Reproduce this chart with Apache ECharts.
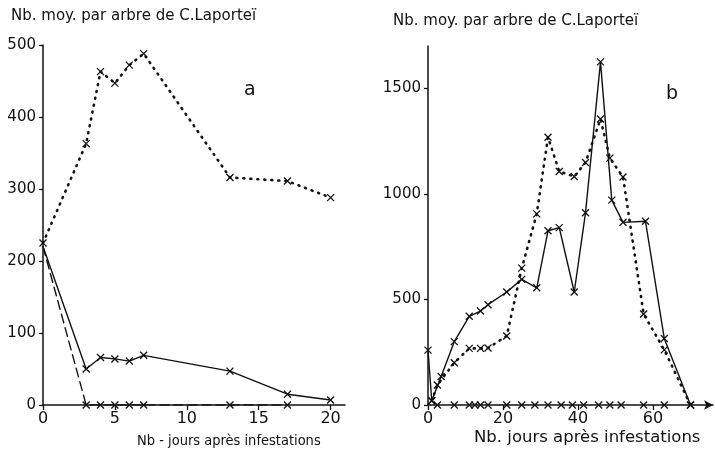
<!DOCTYPE html>
<html>
<head>
<meta charset="utf-8">
<script src="https://cdn.jsdelivr.net/npm/echarts@6/dist/echarts.min.js"></script>
<style>
  html, body { margin: 0; padding: 0; background: #fff; }
</style>
</head>
<body>
<div id="chart" style="width: 715px; height: 453px"></div>
<script>
// panel a : jours apres infestation / nb moyen par arbre
const aDays = [0, 3, 4, 5, 6, 7, 13, 17, 20];
const aDotted = [225, 363, 463, 447, 472, 488, 316, 311, 288];
const aSolid = [220, 50, 66, 64, 61, 69, 47, 15, 7];
const aDashedDays = [0, 3, 4, 5, 6, 7, 13, 17];
const aDashed = [220, 0, 0, 0, 0, 0, 0, 0];

// panel b
const bSolidDays = [0, 1, 3.5, 7, 11, 14, 16, 21, 25, 29, 32, 35, 39, 42, 46, 49, 52, 58, 63, 70];
const bSolid = [260, 20, 135, 300, 420, 445, 475, 535, 595, 555, 825, 840, 535, 910, 1625, 970, 865, 870, 315, 0];
const bDottedDays = [1, 2.5, 7, 11, 14, 16, 21, 25, 29, 32, 35, 39, 42, 46, 48.5, 52, 57.5, 63, 70];
const bDotted = [20, 95, 200, 268, 268, 270, 327, 648, 905, 1268, 1106, 1082, 1148, 1354, 1169, 1080, 431, 261, 0];
const bZeroDays = [2.5, 7, 11, 12.5, 14, 16, 21, 25, 28.5, 32, 35.5, 38.5, 41.5, 45.5, 48.5, 51.5, 57.5, 63];

const aYTicks = [0, 100, 200, 300, 400, 500];
const aXTicks = [0, 5, 10, 15, 20];
const bYTicks = [0, 500, 1000, 1500];
const bXTicks = [0, 20, 40, 60];

const yTitle = "Nb. moy. par arbre de C.Laporteï";
const aXTitle = "Nb - jours après infestations";
const bXTitle = "Nb. jours après infestations";

const ink = "#111";
const font = "DejaVu Sans";
const cross = "path://M0,0L10,10M10,0L0,10";

// [x, y] pairs, optionally without marker on the first point
function pairs(xs, ys, noFirstMark) {
  return xs.map((x, i) => {
    if (noFirstMark && i === 0) return { value: [x, ys[i]], symbol: "none" };
    return [x, ys[i]];
  });
}

function lineSeries(idx, data, type, width) {
  return {
    type: "line",
    xAxisIndex: idx,
    yAxisIndex: idx,
    data: data,
    symbol: cross,
    symbolSize: 7,
    showSymbol: true,
    itemStyle: { color: "transparent", borderColor: ink, borderWidth: 1.3 },
    lineStyle: { color: ink, width: width, type: type, cap: "round" },
    emphasis: { disabled: true },
    z: 3,
  };
}

function xAx(idx, max, ticks, arrow) {
  return {
    type: "value",
    gridIndex: idx,
    min: 0,
    max: max,
    splitLine: { show: false },
    axisLine: {
      show: true,
      lineStyle: { color: ink, width: 1.5 },
      symbol: arrow ? ["none", "arrow"] : "none",
      symbolSize: [7, 9],
    },
    axisTick: { show: true, length: 5, lineStyle: { color: ink, width: 1.3 }, customValues: ticks },
    axisLabel: { color: ink, fontFamily: font, fontSize: 16, margin: 6, customValues: ticks, formatter: (v) => String(v) },
  };
}

function yAx(idx, max, ticks) {
  return {
    type: "value",
    gridIndex: idx,
    min: 0,
    max: max,
    splitLine: { show: false },
    axisLine: { show: true, lineStyle: { color: ink, width: 1.5 } },
    axisTick: { show: true, length: 4, lineStyle: { color: ink, width: 1.3 }, customValues: ticks },
    axisLabel: { color: ink, fontFamily: font, fontSize: 15, margin: 7, customValues: ticks, formatter: (v) => String(v) },
  };
}

const chart = echarts.init(document.getElementById("chart"));

const option = {
  animation: false,
  backgroundColor: "#fff",
  title: [
    { text: yTitle, left: 6, top: 4, textStyle: { color: ink, fontFamily: font, fontSize: 15, fontWeight: "normal" } },
    { text: yTitle, left: 388, top: 9, textStyle: { color: ink, fontFamily: font, fontSize: 15, fontWeight: "normal" } },
    { text: "a", left: 239, top: 76, textStyle: { color: ink, fontFamily: font, fontSize: 19, fontWeight: "normal" } },
    { text: "b", left: 661, top: 80, textStyle: { color: ink, fontFamily: font, fontSize: 19, fontWeight: "normal" } },
    { text: aXTitle, left: 132, top: 429, textStyle: { color: ink, fontFamily: "DejaVu Sans Condensed", fontSize: 14.5, fontWeight: "normal" } },
    { text: bXTitle, left: 469, top: 424, textStyle: { color: ink, fontFamily: font, fontSize: 16.5, fontWeight: "normal" } },
  ],
  grid: [
    { left: 43, top: 45, width: 302, height: 360 },
    { left: 428, top: 46, width: 285, height: 359 },
  ],
  xAxis: [xAx(0, 21, aXTicks, false), xAx(1, 76, bXTicks, true)],
  yAxis: [yAx(0, 500, aYTicks), yAx(1, 1700, bYTicks)],
  series: [
    lineSeries(0, pairs(aDays, aDotted), [1, 6], 2.6),
    lineSeries(0, pairs(aDays, aSolid, true), "solid", 1.4),
    lineSeries(0, pairs(aDashedDays, aDashed, true), [9, 5], 1.4),
    lineSeries(1, pairs(bSolidDays, bSolid), "solid", 1.4),
    lineSeries(1, pairs(bDottedDays, bDotted), [1, 6], 2.6),
    Object.assign(lineSeries(1, pairs(bZeroDays, bZeroDays.map(() => 0)), "solid", 0), { lineStyle: { width: 0 } }),
  ],
};

chart.setOption(option);
</script>
</body>
</html>
